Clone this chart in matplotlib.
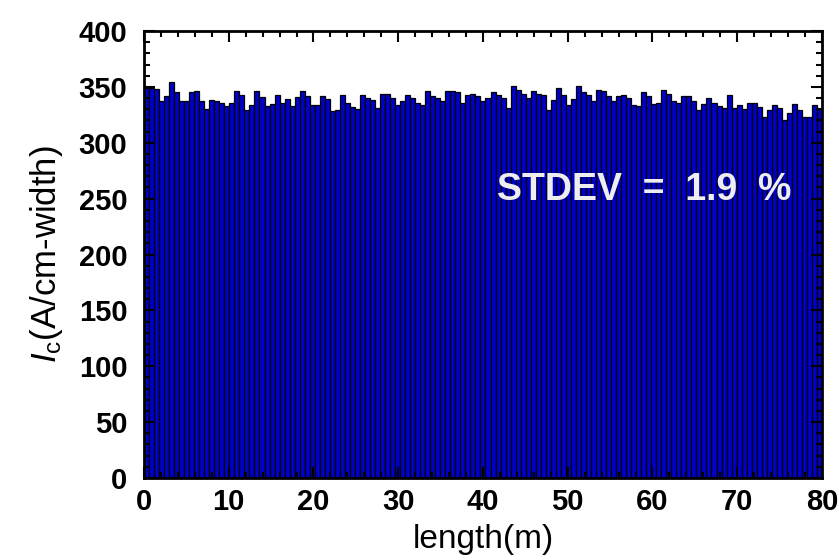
import numpy as np
import matplotlib
matplotlib.use('Agg')
import matplotlib.pyplot as plt
from matplotlib.ticker import MultipleLocator

# Ic values, left to right (A/cm-width)
ic_values = [
    349, 349, 348, 337, 342, 354, 345, 337, 337, 345, 346, 337, 330, 338, 337, 336, 333,
    336, 346, 343, 329, 334, 346, 341, 333, 335, 343, 336, 339, 333, 341, 346, 342,
    334, 334, 342, 339, 328, 329, 343, 336, 332, 330, 343, 340, 338, 331, 344, 344, 340,
    334, 337, 343, 340, 336, 334, 346, 342, 340, 337, 346, 346, 345, 336, 343, 344, 342,
    337, 340,
    345, 343, 340, 331, 351, 347, 344, 340, 346, 344, 343, 329, 338, 349, 343, 334, 339,
    351, 345, 343, 337, 347, 346, 342, 337, 342, 343, 340, 334, 333, 345,
    342, 335, 336, 347, 344, 337, 336, 342, 342, 337, 329, 335, 340, 336, 333, 331, 343,
    331, 334, 330, 336, 336, 332, 323, 329, 334, 331, 320, 327, 335, 329, 323, 323, 334,
    330,
]
total_length = 80  # m
x_ticks = [0, 10, 20, 30, 40, 50, 60, 70, 80]
y_ticks = [0, 50, 100, 150, 200, 250, 300, 350, 400]
stdev_text = 'STDEV  =  1.9  %'

plt.rcParams['font.family'] = ['Liberation Sans', 'DejaVu Sans']
plt.rcParams['mathtext.fontset'] = 'custom'
plt.rcParams['mathtext.rm'] = 'Liberation Sans'
plt.rcParams['mathtext.it'] = 'Liberation Sans:italic'

n = len(ic_values)
width = total_length / n
pos = np.arange(n) * width

fig = plt.figure(figsize=(8.39, 5.60), dpi=100)
ax = fig.add_axes([0.1716, 0.1464, 0.8081, 0.7982])

ax.bar(pos, ic_values, width=width, align='edge', color='#0000c8',
       edgecolor='black', linewidth=0.9)

ax.set_xlim(0, total_length)
ax.set_ylim(0, 400)
ax.set_xticks(x_ticks)
ax.set_yticks(y_ticks)
ax.xaxis.set_minor_locator(MultipleLocator(2))
ax.yaxis.set_minor_locator(MultipleLocator(10))
ax.tick_params(which='both', direction='in', top=True, right=True, width=1.5)
ax.tick_params(which='major', length=8, labelsize=21)
ax.tick_params(which='minor', length=4)
ax.tick_params(axis='x', which='major', pad=7)
ax.tick_params(axis='y', which='major', pad=12)
for lab in ax.get_xticklabels() + ax.get_yticklabels():
    lab.set_fontweight('bold')
for sp in ax.spines.values():
    sp.set_linewidth(2)

ax.set_xlabel('length(m)', fontsize=24, labelpad=6)
ax.set_ylabel(r'$I_{\rm c}$(A/cm-width)', fontsize=25, labelpad=10)

ax.text(41.6, 258, stdev_text, color='#eeeeee', fontsize=27, fontweight='bold',
        ha='left', va='center')

plt.savefig('out.png', dpi=100)
plt.close()
